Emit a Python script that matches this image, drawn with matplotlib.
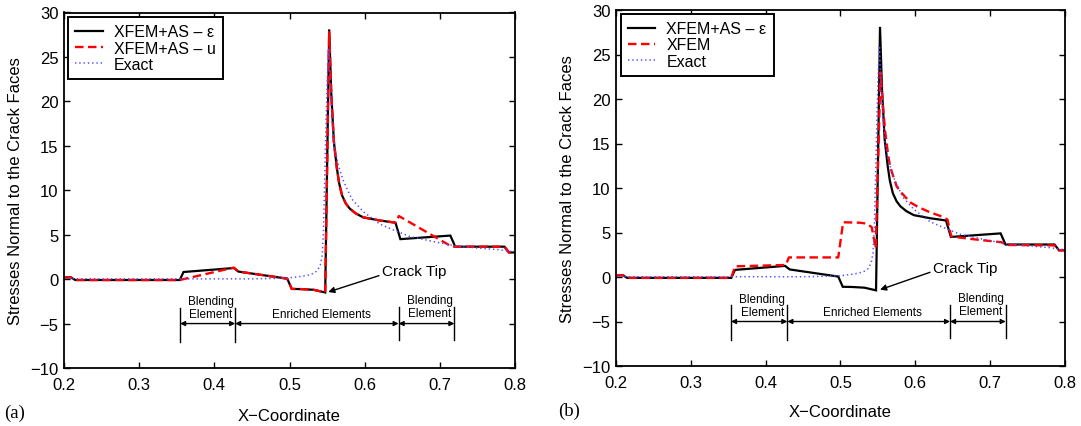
import matplotlib
matplotlib.use("Agg")
import matplotlib.pyplot as plt

plt.rcParams['font.family'] = ['Liberation Sans', 'DejaVu Sans']

# ---------------- data ----------------
# XFEM+AS - epsilon (both panels)
x_eps = [0.200, 0.209, 0.215, 0.354, 0.359, 0.426, 0.432, 0.497, 0.503, 0.515, 0.532,
         0.5475, 0.5528, 0.5555, 0.5590, 0.5630, 0.5660, 0.5700, 0.5750, 0.5800, 0.5880,
         0.5980, 0.6200, 0.6410, 0.6475, 0.7140, 0.7205, 0.7860, 0.7920, 0.8000]
y_eps = [0.2, 0.2, -0.1, -0.1, 0.8, 1.25, 0.85, 0.05, -1.1, -1.12, -1.2,
         -1.5, 28.1, 21.0, 15.5, 12.5, 10.8, 9.4, 8.5, 7.95, 7.4,
         6.95, 6.6, 6.35, 4.5, 4.9, 3.65, 3.65, 3.0, 3.0]

# XFEM+AS - u (left panel)
x_u = [0.200, 0.209, 0.215, 0.354, 0.426, 0.432, 0.497, 0.503, 0.515, 0.532,
       0.5475, 0.5528, 0.5555, 0.5590, 0.5630, 0.5660, 0.5700, 0.5750, 0.5800, 0.5880,
       0.5980, 0.6200, 0.6410, 0.6455, 0.7160, 0.7205, 0.7860, 0.7920, 0.8000]
y_u = [0.2, 0.2, -0.1, -0.1, 1.3, 0.85, 0.05, -1.1, -1.12, -1.2,
       -1.5, 27.8, 21.0, 15.5, 12.5, 10.8, 9.4, 8.5, 7.95, 7.4,
       6.95, 6.6, 6.35, 7.1, 3.65, 3.65, 3.65, 3.0, 3.0]

# XFEM (right panel)
x_xfem = [0.200, 0.209, 0.215, 0.354, 0.359, 0.427, 0.431, 0.497, 0.5035, 0.526, 0.535,
          0.5417, 0.5470, 0.5535, 0.5560, 0.5597, 0.5640, 0.5666, 0.5750, 0.5800, 0.5930,
          0.6030, 0.6200, 0.6355, 0.6430, 0.6480, 0.6770, 0.7155, 0.7215, 0.7860, 0.7920, 0.8000]
y_xfem = [0.2, 0.2, -0.1, -0.1, 1.2, 1.35, 2.2, 2.2, 6.15, 6.1, 6.0,
          5.6, 3.2, 23.0, 20.0, 16.3, 13.5, 12.3, 10.2, 9.6, 8.4,
          7.9, 7.25, 6.8, 6.45, 4.55, 4.25, 3.9, 3.6, 3.55, 3.0, 3.0]

# Exact
x_exact = [0.200, 0.209, 0.215, 0.450, 0.480, 0.500, 0.515, 0.525, 0.532, 0.537, 0.541,
           0.5435, 0.5452, 0.5465, 0.5480, 0.5500, 0.5520, 0.5540, 0.5565, 0.5596, 0.5650,
           0.5720, 0.5830, 0.5980, 0.6200, 0.6420, 0.6600, 0.6900, 0.7200, 0.7500, 0.7800, 0.8000]
y_exact = [0.15, 0.1, 0.03, 0.03, 0.08, 0.15, 0.3, 0.45, 0.65, 0.95, 1.6,
           2.7, 5.5, 10.0, 15.5, 22.0, 26.0, 22.5, 18.0, 15.0, 12.8,
           11.0, 9.0, 7.6, 6.2, 5.4, 4.8, 4.25, 3.75, 3.5, 3.3, 3.05]

xticks = [0.2, 0.3, 0.4, 0.5, 0.6, 0.7, 0.8]
yticks = [-10, -5, 0, 5, 10, 15, 20, 25, 30]
ylabel = "Stresses Normal to the Crack Faces"
xlabel = "X\u2212Coordinate"

# ---------------- figure ----------------
fig = plt.figure(figsize=(10.81, 4.27), dpi=100)
W, H = 1081, 427
axL = fig.add_axes([64 / W, 1 - 369 / H, 451 / W, 355.5 / H])
axR = fig.add_axes([616 / W, 1 - 367 / H, 449 / W, 356 / H])

blk = dict(color='black', lw=1.6, solid_joinstyle='miter')
red = dict(color='#ff0000', lw=1.7, dashes=(3.6, 1.9))
blu = dict(color='#5050ff', lw=1.1, dashes=(0.9, 1.9))

axL.plot(x_eps, y_eps, label="XFEM+AS \u2013 \u03b5", **blk)
axL.plot(x_u, y_u, label="XFEM+AS \u2013 u", **red)
axL.plot(x_exact, y_exact, label="Exact", **blu)

axR.plot(x_eps, y_eps, label="XFEM+AS \u2013 \u03b5", **blk)
axR.plot(x_xfem, y_xfem, label="XFEM", **red)
axR.plot(x_exact, y_exact, label="Exact", **blu)


def style(ax, ylab_x):
    ax.set_xlim(0.2, 0.8)
    ax.set_ylim(-10, 30)
    ax.set_xticks(xticks)
    ax.set_yticks(yticks)
    ax.set_xticklabels([f"{t:.1f}" for t in xticks])
    ax.tick_params(direction='in', top=True, right=True, length=4.5, width=1.0,
                   labelsize=12)
    ax.tick_params(axis='x', pad=6.5)
    ax.tick_params(axis='y', pad=4)
    for s in ax.spines.values():
        s.set_linewidth(1.3)
    ax.set_ylabel(ylabel, fontsize=12)
    ax.yaxis.set_label_coords(ylab_x, 0.5)
    ax.yaxis.label.set_va('center')


style(axL, -0.1075)
style(axR, -0.109)

for ax, lab_y in ((axL, -0.133), (axR, -0.127)):
    ax.text(0.5, lab_y, xlabel, transform=ax.transAxes, ha='center', va='center',
            fontsize=12)

fig.text(15 / W, 1 - 413 / H, "(a)", family=['Liberation Serif', 'DejaVu Serif'],
         fontsize=13.5, ha='center', va='center')
fig.text(569 / W, 1 - 411 / H, "(b)", family=['Liberation Serif', 'DejaVu Serif'],
         fontsize=13.5, ha='center', va='center')

for ax, anc in ((axL, (0.0095, 0.987)), (axR, (0.011, 0.989))):
    leg = ax.legend(loc='upper left', bbox_to_anchor=anc, borderaxespad=0,
                    fontsize=11.5, handlelength=1.7, handletextpad=0.7,
                    labelspacing=0.08, borderpad=0.45, fancybox=False,
                    framealpha=1, edgecolor='black')
    leg.get_frame().set_linewidth(1.4)


def annotate(ax, bnds, tip_text_xy, tip_from, tip_to, enr_x):
    b0, b1, b2, b3 = bnds
    for b in (b0, b1):
        ax.plot([b, b], [-3.2, -7.1], color='black', lw=1.0)
    for b in (b2, b3):
        ax.plot([b, b], [-3.1, -6.8], color='black', lw=1.0)
    for a, c in ((b0, b1), (b1, b2), (b2, b3)):
        ax.annotate('', xy=(c, -5.0), xytext=(a, -5.0),
                    arrowprops=dict(arrowstyle='<|-|>', mutation_scale=7,
                                    shrinkA=0, shrinkB=0, lw=1.0, color='black'))
    ax.text((b0 + b1) / 2 + 0.004, -3.2, "Blending\nElement", ha='center', va='center',
            fontsize=8.5, linespacing=1.15)
    ax.text((b2 + b3) / 2 + 0.004, -3.1, "Blending\nElement", ha='center', va='center',
            fontsize=8.5, linespacing=1.15)
    ax.text(enr_x, -3.9, "Enriched Elements", ha='center', va='center', fontsize=8.5)
    ax.text(tip_text_xy[0], tip_text_xy[1], "Crack Tip", ha='left', va='center',
            fontsize=11)
    ax.annotate('', xy=tip_to, xytext=tip_from,
                arrowprops=dict(arrowstyle='-|>', mutation_scale=9, shrinkA=0,
                                shrinkB=0, lw=1.0, color='black'))


annotate(axL, (0.3545, 0.4277, 0.6452, 0.7194), (0.6227, 0.88), (0.619, 0.39),
         (0.5515, -1.45), 0.542)
annotate(axR, (0.3537, 0.4290, 0.6464, 0.7208), (0.6236, 0.97), (0.6196, 0.53),
         (0.5528, -1.43), 0.5433)

fig.savefig("out.png", dpi=100)
